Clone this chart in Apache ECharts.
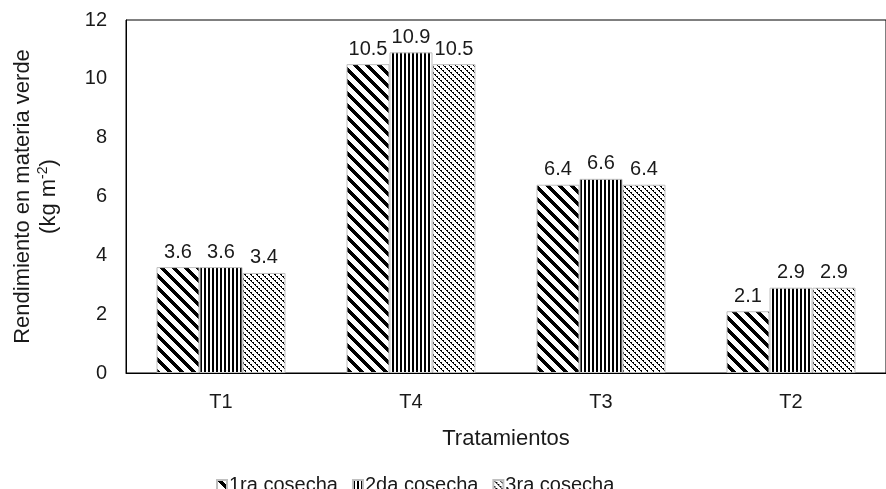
<!DOCTYPE html>
<html>
<head>
<meta charset="utf-8">
<script src="https://cdn.jsdelivr.net/npm/echarts@6/dist/echarts.min.js"></script>
<style>
html,body{margin:0;padding:0;background:#fff;}
#chart{width:886px;height:489px;}
</style>
</head>
<body>
<div id="chart"></div>
<script>
var categories = ['T1', 'T4', 'T3', 'T2'];
var seriesNames = ['1ra cosecha', '2da cosecha', '3ra cosecha'];
var cosecha1 = [3.6, 10.5, 6.4, 2.1];
var cosecha2 = [3.6, 10.9, 6.6, 2.9];
var cosecha3 = [3.4, 10.5, 6.4, 2.9];
var yTicks = [0, 2, 4, 6, 8, 10, 12];

var FONT = 'Liberation Sans, Arial, sans-serif';
var TXT = '#1a1a1a';

function makeTile(w, h, fn) {
  var c = document.createElement('canvas');
  c.width = w; c.height = h;
  var ctx = c.getContext('2d');
  ctx.fillStyle = '#fff';
  ctx.fillRect(0, 0, w, h);
  ctx.fillStyle = '#000';
  for (var y = 0; y < h; y++) {
    for (var x = 0; x < w; x++) {
      if (fn(x, y)) ctx.fillRect(x, y, 1, 1);
    }
  }
  return c;
}
// wide downward diagonal
var tile1 = makeTile(12, 12, function (x, y) { return ((x - y) % 12 + 12) % 12 < 5; });
// dark vertical
var tile2 = makeTile(4, 4, function (x, y) { return x < 2; });
// light dotted downward diagonal
var tile3 = makeTile(6, 6, function (x, y) {
  var d = ((x - y) % 6 + 6) % 6;
  return d === 0 || (d === 1 && y % 2 === 0);
});
var patterns = [tile1, tile2, tile3];
var dataSets = [cosecha1, cosecha2, cosecha3];

var chart = echarts.init(document.getElementById('chart'), null, {renderer: 'canvas'});

var series = seriesNames.map(function (name, i) {
  return {
    name: name,
    type: 'bar',
    data: dataSets[i],
    barWidth: 43,
    barGap: '0%',
    itemStyle: {
      color: {image: patterns[i], repeat: 'repeat'},
      borderColor: '#bfbfbf',
      borderWidth: 1
    },
    label: {
      show: true,
      position: 'top',
      distance: 5,
      color: TXT,
      fontSize: 20,
      fontFamily: FONT,
      formatter: function (p) { return p.value.toFixed(1); }
    },
    emphasis: {disabled: true}
  };
});

chart.setOption({
  animation: false,
  backgroundColor: '#fff',
  grid: {
    left: 126, top: 20, width: 767, height: 353,
    show: true, borderColor: '#000', borderWidth: 1, backgroundColor: 'transparent'
  },
  legend: {
    data: seriesNames,
    left: 211,
    top: 470,
    icon: 'rect',
    itemWidth: 10,
    itemHeight: 10,
    itemGap: 14,
    textStyle: {color: TXT, fontSize: 20, fontFamily: FONT, padding: [0, 0, 0, -3]}
  },
  xAxis: {
    type: 'category',
    data: categories,
    name: 'Tratamientos',
    nameLocation: 'middle',
    nameGap: 55,
    nameTextStyle: {color: TXT, fontSize: 22, fontFamily: FONT},
    axisLine: {show: true, lineStyle: {color: '#000', width: 1}},
    axisTick: {show: false},
    axisLabel: {color: TXT, fontSize: 20, fontFamily: FONT, margin: 19},
    splitLine: {show: false}
  },
  yAxis: {
    type: 'value',
    min: yTicks[0],
    max: yTicks[yTicks.length - 1],
    interval: 2,
    name: '{a|Rendimiento en materia verde}\n{a|(kg m}{s|-2}{a|)}',
    nameLocation: 'middle',
    nameGap: 64,
    nameRotate: 90,
    nameTextStyle: {
      color: TXT, fontSize: 22, fontFamily: FONT, lineHeight: 26,
      rich: {
        a: {fontSize: 22, fontFamily: FONT, color: TXT, lineHeight: 26},
        s: {fontSize: 14, fontFamily: FONT, color: TXT, verticalAlign: 'top', lineHeight: 26, padding: [0, 0, 9, 0]}
      }
    },
    axisLine: {show: true, lineStyle: {color: '#000', width: 1}},
    axisTick: {show: false},
    axisLabel: {color: TXT, fontSize: 20, fontFamily: FONT, margin: 19},
    splitLine: {show: false}
  },
  series: series
});
</script>
</body>
</html>
